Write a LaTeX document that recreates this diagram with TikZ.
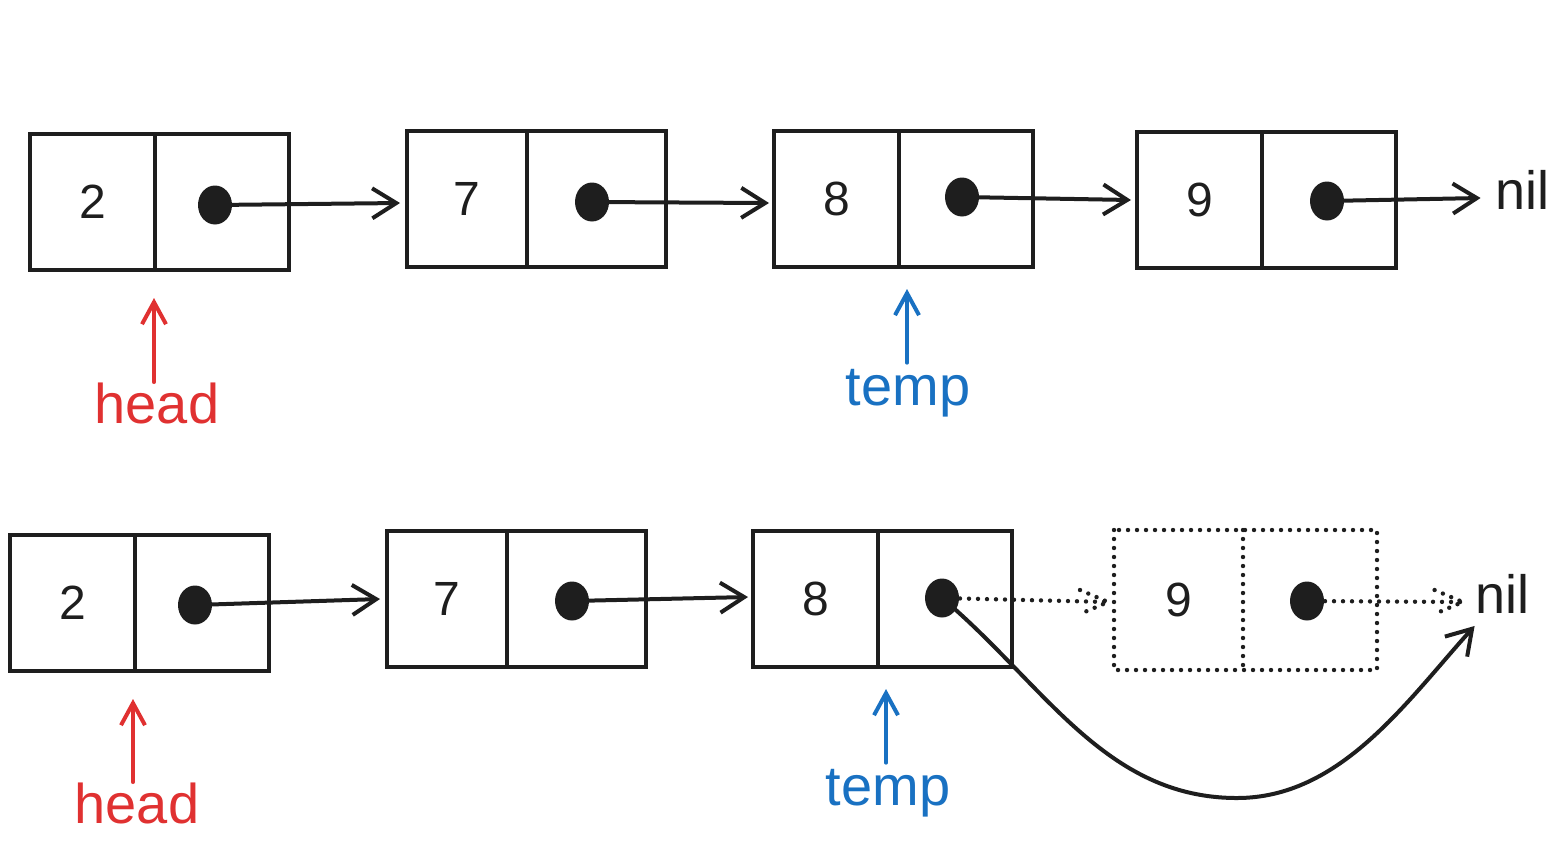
\documentclass[tikz,border=0pt]{standalone}
\usepackage{fontspec}
\setmainfont{Liberation Sans}
\usetikzlibrary{arrows.meta,shapes.geometric,calc}
\definecolor{ink}{HTML}{1E1E1E}
\definecolor{hred}{HTML}{E03131}
\definecolor{hblue}{HTML}{1971C2}
\tikzset{
  cellv/.style={draw=ink, line width=2pt, minimum width=62.5pt, minimum height=68pt, inner sep=0pt, text=ink, font=\fontsize{24}{28}\selectfont},
  cellp/.style={draw=ink, line width=2pt, minimum width=67pt, minimum height=68pt, inner sep=0pt},
  dcellv/.style={cellv, draw=none},
  dcellp/.style={cellp, draw=none},
  ptrdot/.style={ellipse, fill=ink, minimum width=17pt, minimum height=19.5pt, inner sep=0pt},
  link/.style={draw=ink, line width=2pt, line cap=round, -{Straight Barb[length=12pt,width=15pt,line width=2pt]}},
  dotline/.style={draw=ink, line width=2.2pt, line cap=round, dash pattern=on 0pt off 4.5pt},
  niltext/.style={text=ink, font=\fontsize{27}{30}\selectfont, inner sep=1pt},
  lbl/.style={font=\fontsize{28}{30}\selectfont, inner sep=0pt},
  uparrow/.style={line width=2pt, line cap=round, -{Straight Barb[length=11pt,width=12pt,line width=2pt]}},
}
\begin{document}
\begin{tikzpicture}[x=0.5pt,y=-0.5pt]
\useasboundingbox (0,0) rectangle (1561,852);
% ---------- top row ----------
\node[cellv] (a1v) at (92.5,202) {2};
\node[cellp] (a1p) at (222,202) {};
\node[ptrdot] (a1d) at (215,205) {};
\node[cellv, minimum width=60pt] (a2v) at (467,199) {7};
\node[cellp, minimum width=69.5pt] (a2p) at (596.5,199) {};
\node[ptrdot] (a2d) at (592,202) {};
\node[cellv] (a3v) at (836.5,199) {8};
\node[cellp] (a3p) at (966,199) {};
\node[ptrdot] (a3d) at (962,197) {};
\node[cellv] (a4v) at (1199.5,200) {9};
\node[cellp] (a4p) at (1329,200) {};
\node[ptrdot] (a4d) at (1327,201) {};
\node[niltext] (nil1) at (1522,190) {nil};
\draw[link] (a1d.center) -- ([xshift=-2.5pt,yshift=-2pt]a2v.west);
\draw[link] (a2d.center) -- ([xshift=-1.5pt,yshift=-2pt]a3v.west);
\draw[link] (a3d.center) -- ([xshift=-2pt]a4v.west);
\draw[link] (a4d.center) -- ([xshift=-6pt,yshift=-4pt]nil1.west);
\node[lbl, text=hred] (head1) at (157,403) {head};
\node[lbl, text=hblue] (temp1) at (908,393) {temp};
\draw[uparrow, hred] ([xshift=-1.5pt]a1v.south east |- head1.north) -- ([yshift=-13pt,xshift=-1.5pt]a1v.south east);
\draw[uparrow, hblue] ([xshift=3pt,yshift=3pt]a3v.south east |- temp1.north) -- ([yshift=-10pt,xshift=3pt]a3v.south east);
% ---------- bottom row ----------
\node[cellv] (b1v) at (72.5,603) {2};
\node[cellp] (b1p) at (202,603) {};
\node[ptrdot] (b1d) at (195,605) {};
\node[cellv, minimum width=60pt] (b2v) at (447,599) {7};
\node[cellp, minimum width=69.5pt] (b2p) at (576.5,599) {};
\node[ptrdot] (b2d) at (572,601) {};
\node[cellv] (b3v) at (815.5,599) {8};
\node[cellp] (b3p) at (945,599) {};
\node[ptrdot] (b3d) at (942,598) {};
\node[dcellv] (b4v) at (1178.5,600) {9};
\node[dcellp] (b4p) at (1308,600) {};
\node[ptrdot] (b4d) at (1307,601) {};
\draw[dotline] (b4v.north west) rectangle (b4p.south east);
\draw[dotline] (b4v.north east) -- (b4v.south east);
\node[niltext] (nil2) at (1502,594) {nil};
\draw[link] (b1d.center) -- ([xshift=-2.5pt]b2v.west);
\draw[link] (b2d.center) -- ([xshift=-1.5pt,yshift=1pt]b3v.west);
% dotted links with dotted heads
\coordinate (t1) at ([xshift=-3pt,yshift=-1pt]b4v.west);
\coordinate (t2) at ([xshift=-5pt,yshift=-4pt]nil2.west);
\draw[dotline] (b3d.center) -- (t1);
\draw[dotline] ($(t1)+(-28,-12)$) -- (t1) -- ($(t1)+(-28,12)$);
\draw[dotline] (b4d.center) -- (t2);
\draw[dotline] ($(t2)+(-28,-12)$) -- (t2) -- ($(t2)+(-28,12)$);
% bypass curve
\coordinate (cb) at (1237,798);
\draw[link] (b3d.center) to[out=-40,in=180,looseness=0.95] (cb) to[out=0,in=-132,looseness=0.9] ([xshift=1pt,yshift=-5pt]nil2.south west);
\node[lbl, text=hred] (head2) at (137,803) {head};
\node[lbl, text=hblue] (temp2) at (888,793) {temp};
\draw[uparrow, hred] ([xshift=-2pt]b1v.south east |- head2.north) -- ([yshift=-13pt,xshift=-2pt]b1v.south east);
\draw[uparrow, hblue] ([xshift=3pt,yshift=3pt]b3v.south east |- temp2.north) -- ([yshift=-10pt,xshift=3pt]b3v.south east);
\end{tikzpicture}
\end{document}
